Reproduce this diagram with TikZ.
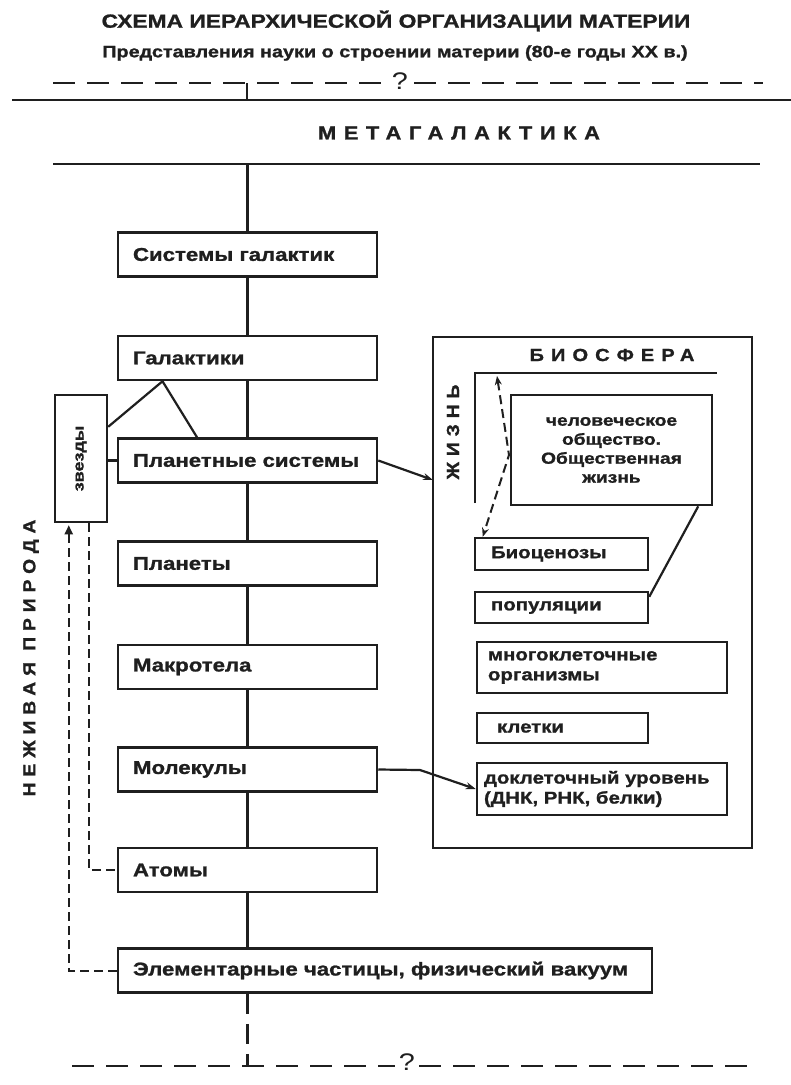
\documentclass[tikz,border=0pt]{standalone}
\usepackage{fontspec}
\setmainfont{Liberation Sans}[FakeStretch=1.2,BoldFeatures={FakeBold=1.2}]
\newfontfamily\spacedA{Liberation Sans}[FakeStretch=1.15,LetterSpace=40,BoldFeatures={FakeBold=1.2}]
\newfontfamily\spacedB{Liberation Sans}[FakeStretch=1.1,LetterSpace=34,BoldFeatures={FakeBold=1.2}]
\usetikzlibrary{arrows.meta,calc}
\newcommand\bxfont{\fontsize{18.5}{21}\selectfont\bfseries}
\newcommand\sbxfont{\fontsize{17}{20}\selectfont\bfseries}
\colorlet{ink}{black!88}
\tikzset{
  ln/.style={draw=ink, line width=2.2pt},
  dsh/.style={ln, dash pattern=on 22pt off 12pt},
  dshf/.style={ln, line width=2pt, dash pattern=on 9pt off 5pt},
  bx/.style={draw=ink, line width=2.5pt, fill=white, inner ysep=0pt, text=ink},
  lbox/.style={bx, minimum height=44pt, text width=229pt, inner xsep=15pt, align=left, font=\bxfont},
  sbox/.style={bx, align=left, font=\sbxfont},
  tip/.style={-{Stealth[length=10pt,width=7pt]}},
}
\begin{document}
\begin{tikzpicture}[x=1pt,y=-1pt]
\useasboundingbox (0,0) rectangle (791,1085);
\fill[white] (0,0) rectangle (791,1085);

% titles
\node[text=ink, font=\fontsize{19}{22}\selectfont\bfseries] (title) at (396,21) {СХЕМА ИЕРАРХИЧЕСКОЙ ОРГАНИЗАЦИИ МАТЕРИИ};
\node[text=ink, font=\fontsize{16.5}{20}\selectfont\bfseries] (sub) at (395,53) {Представления науки о строении материи (80-е годы XX в.)};

% top dashed line with question mark
\node[text=ink, font=\fontsize{24}{26}\selectfont, inner xsep=6pt] (q1) at (400,81) {?};
\coordinate (tl) at (53,83);
\coordinate (tr) at (763,83);
\draw[dsh] (tl) -- (q1.west |- tl);
\draw[dsh] (q1.east |- tl) -- (tr);
\coordinate (sl) at (12,100);
\coordinate (sr) at (791,100);
\draw[ln] (sl) -- (sr);
\coordinate (tick) at (247,83);
\draw[ln] (tick) -- (tick |- sl);

% metagalaxy
\node[text=ink, font=\fontsize{19}{21}\selectfont\bfseries\spacedA] (meta) at (459,133) {МЕТАГАЛАКТИКА};
\coordinate (ml) at (53,164);
\coordinate (mr) at (760,164);
\draw[ln] (ml) -- (mr);

% left column
\node[lbox] (sg) at (247.5,254.5) {Системы галактик};
\node[lbox] (gal) at (247.5,358) {Галактики};
\node[lbox] (ps) at (247.5,460.5) {Планетные системы};
\node[lbox] (pl) at (247.5,563.5) {Планеты};
\node[lbox] (mt) at (247.5,667) {Макротела};
\node[lbox] (mol) at (247.5,769.5) {Молекулы};
\node[lbox] (at) at (247.5,870) {Атомы};
\node[lbox, text width=504pt] (el) at (385,970.5) {\mbox{Элементарные частицы, физический вакуум}};

\draw[ln] (sg.north |- ml) -- (sg.north);
\draw[ln] (sg) -- (gal);
\draw[ln] (gal) -- (ps);
\draw[ln] (ps) -- (pl);
\draw[ln] (pl) -- (mt);
\draw[ln] (mt) -- (mol);
\draw[ln] (mol) -- (at);
\draw[ln] (at.south) -- (at.south |- el.north);

% stars
\node[bx, minimum width=52pt, minimum height=127pt, inner sep=0pt, font=\fontsize{15}{17}\selectfont\bfseries] (zv) at (81,458.5) {\rotatebox{90}{звезды}};
\draw[ln] ([yshift=-33pt]zv.north east) -- ([xshift=-85pt]gal.south) -- ([xshift=-50.5pt]ps.north);
\draw[ln] (ps.west -| zv.east) -- (ps.west);

% dashed links on the left
\draw[dshf, -{Triangle[length=9pt,width=8pt]}] (el.west) -| ([xshift=15pt,yshift=-2pt]zv.south west);
\draw[dshf] ([xshift=35pt]zv.south west) |- (at.west);

\node[text=ink, rotate=90, font=\fontsize{17.5}{19}\selectfont\bfseries\spacedB] (nez) at (31,658) {НЕЖИВАЯ ПРИРОДА};

% bottom
\coordinate (bl) at (72,1066);
\coordinate (br) at (752,1066);
\node[text=ink, font=\fontsize{24}{26}\selectfont, inner xsep=4pt] (q2) at (407,1062) {?};
\draw[dsh] (bl) -- (q2.west |- bl);
\draw[dsh] (q2.east |- bl) -- (br);
\draw[ln, dash pattern=on 20pt off 10pt] (el.south -| sg.south) -- (sg.south |- bl);

% biosphere
\node[draw=ink, line width=2.5pt, minimum width=319pt, minimum height=511pt, inner sep=0pt] (bio) at (592.5,592.5) {};
\node[text=ink, font=\fontsize{17.5}{19}\selectfont\bfseries\spacedA] (biot) at (612,355) {БИОСФЕРА};
\coordinate (bk1) at (475,503);
\coordinate (bk2) at (475,373);
\coordinate (bk3) at (717,373);
\draw[ln] (bk1) -- (bk2) -- (bk3);
\node[text=ink, rotate=90, font=\fontsize{17.5}{19}\selectfont\bfseries\spacedB] (zh) at (453,432) {ЖИЗНЬ};

\node[bx, minimum width=201pt, minimum height=110pt, align=center, font=\fontsize{16}{19}\selectfont\bfseries] (hs) at (611.5,450) {человеческое\\общество.\\Общественная\\жизнь};
\node[sbox, minimum height=32pt, text width=141pt, inner xsep=16pt] (bc) at (561.5,554) {Биоценозы};
\node[sbox, minimum height=31pt, text width=141pt, inner xsep=16pt] (pop) at (561.5,607.5) {популяции};
\node[sbox, minimum height=51pt, text width=228pt, inner xsep=11pt] (mo) at (602,667.5) {многоклеточные\\организмы};
\node[sbox, minimum height=30pt, text width=131pt, inner xsep=20pt] (kl) at (562.5,728) {клетки};
\node[sbox, minimum height=52pt, text width=236pt, inner xsep=7pt] (dk) at (602,789) {доклеточный уровень\\(ДНК, РНК, белки)};

% biosphere connectors
\coordinate (bioin) at (433,480);
\draw[ln, tip] (ps.east) -- (bioin);
\coordinate (mk) at (420,770);
\draw[ln, tip] (mol.east) -- (mk) -- (dk.west);
\coordinate (j1) at (497,376);
\coordinate (j2) at (509,455);
\draw[dshf, {Stealth[length=9pt,width=7pt]}-{Stealth[length=9pt,width=7pt]}] (j1) -- (j2) -- ([xshift=9pt]bc.north west);
\draw[ln] ([yshift=-6pt]pop.north east) -- ([xshift=-15pt]hs.south east);
\end{tikzpicture}
\end{document}
